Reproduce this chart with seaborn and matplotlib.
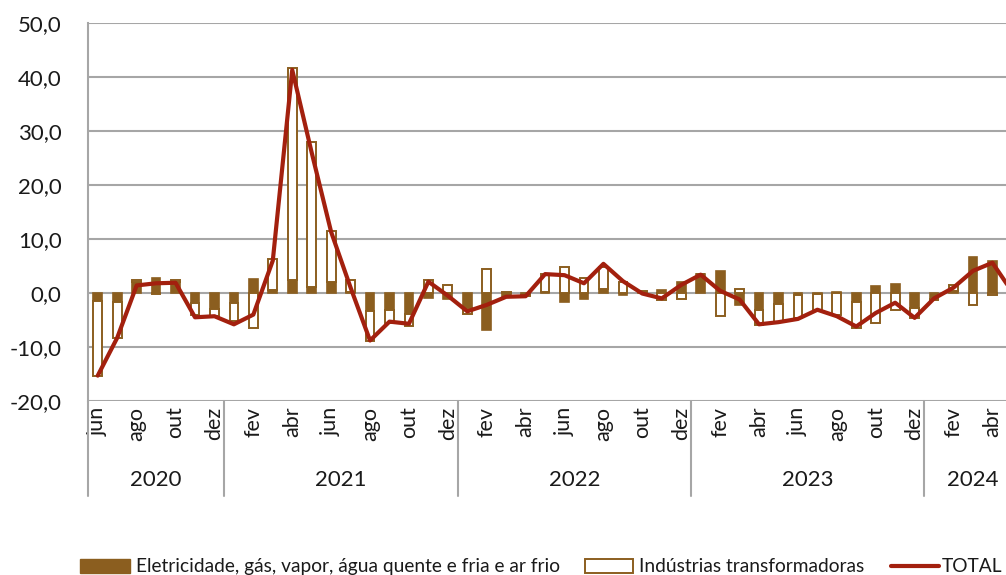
import numpy as np
import matplotlib
matplotlib.use("Agg")
import matplotlib.pyplot as plt
import matplotlib.transforms as mtransforms
from matplotlib.patches import Patch
from matplotlib.lines import Line2D
import seaborn as sns

# meses jun/2020 .. mai/2024
months = ["jun", "jul", "ago", "set", "out", "nov", "dez",
          "jan", "fev", "mar", "abr", "mai", "jun", "jul", "ago", "set", "out", "nov", "dez",
          "jan", "fev", "mar", "abr", "mai", "jun", "jul", "ago", "set", "out", "nov", "dez",
          "jan", "fev", "mar", "abr", "mai", "jun", "jul", "ago", "set", "out", "nov", "dez",
          "jan", "fev", "mar", "abr", "mai"]
years = ["2020", "2021", "2022", "2023", "2024"]
months_per_year = [7, 12, 12, 12, 5]

eletricidade = [-1.5, -1.7, 2.0, 2.8, 2.0, -1.9, -2.9,
                -1.8, 2.6, 0.5, 2.5, 1.2, 2.0, 0.1, -3.4, -3.2, -3.9, -1.0, -1.2,
                -2.8, -6.9, -0.7, -0.3, 0.1, -1.7, -1.1, 0.7, -0.3, 0.2, 0.5, 2.1,
                3.5, 4.0, -2.2, -3.2, -2.0, -0.4, -0.2, 0.1, -1.7, 1.3, 1.6, -2.7,
                -1.2, 0.4, 6.6, 6.0, -1.0]
industrias = [-13.9, -6.7, 0.4, -0.1, 0.5, -2.2, -1.4,
              -3.4, -6.5, 5.8, 39.1, 26.8, 9.5, 2.3, -5.4, -2.3, -2.2, 2.5, 1.4,
              -1.0, 4.4, 0.1, -0.3, 3.4, 4.9, 2.8, 4.2, 2.0, 0.1, -1.3, -1.2,
              0.1, -4.3, 0.8, -2.8, -3.3, -4.3, -3.0, -4.1, -4.7, -5.5, -3.2, -2.0,
              -0.1, 1.0, -2.3, -0.3, 1.0]
total = [-15.3, -8.3, 1.4, 1.8, 1.9, -4.5, -4.3,
         -5.8, -4.0, 6.0, 41.3, 26.0, 11.3, 1.0, -8.8, -5.3, -5.7, 2.1, -0.5,
         -3.4, -2.2, -0.7, -0.6, 3.5, 3.3, 1.8, 5.4, 2.2, -0.1, -1.0, 1.5,
         3.4, 0.4, -1.2, -5.8, -5.4, -4.8, -3.1, -4.3, -6.2, -3.7, -1.8, -4.6,
         -1.0, 1.0, 4.1, 5.6, 0.3]

BROWN = "#8B5E1F"
RED = "#A3200E"
GRID = "#A6A6A6"
TXT = "#1a1a1a"

sns.set_theme(style="white")
plt.rcParams["font.family"] = ["Lato", "DejaVu Sans"]

x = np.arange(len(months))
el = np.array(eletricidade)
ind = np.array(industrias)
# empilhamento estilo Excel: positivos e negativos separados
bottom = np.where(np.sign(ind) == np.sign(el), el, 0.0)

fig = plt.figure(figsize=(10.06, 5.75), dpi=100)
ax = fig.add_axes([0.0875, 0.3026, 0.928, 0.6574])

sns.barplot(x=x, y=el, native_scale=True, color=BROWN, saturation=1,
            width=0.45, edgecolor=BROWN, linewidth=1.2, ax=ax, zorder=3)
ax.bar(x, ind, bottom=bottom, width=0.45, color="white", edgecolor=BROWN,
       linewidth=1.4, zorder=3)
sns.lineplot(x=x, y=total, color=RED, linewidth=3, ax=ax, zorder=4)

ax.set_xlim(-0.5, len(months) - 0.5)
ax.set_ylim(-20, 50)
ax.set_yticks(np.arange(-20, 51, 10))
ax.set_yticklabels([f"{v:.1f}".replace(".", ",") for v in np.arange(-20, 51, 10)],
                   fontsize=16, color=TXT)
ax.yaxis.grid(True, color=GRID, linewidth=1.5, zorder=0)
ax.tick_params(axis="y", length=7, width=1.5, color=GRID, pad=12)
for s in ["top", "right", "bottom"]:
    ax.spines[s].set_visible(False)
ax.spines["left"].set_color(GRID)
ax.spines["left"].set_linewidth(1.5)

ax.set_xticks(x[::2])
ax.set_xticklabels(months[::2], rotation=90, fontsize=15.5, color=TXT)
ax.tick_params(axis="x", length=0, pad=4)
ax.set_xlabel("")
ax.set_ylabel("")

# separadores dos anos e etiquetas
trans = mtransforms.blended_transform_factory(ax.transData, ax.transAxes)
edges = np.concatenate([[0], np.cumsum(months_per_year)]) - 0.5
for e in edges:
    ax.plot([e, e], [-0.25, 0], transform=trans, color=GRID, linewidth=1.5,
            clip_on=False)
for i, yr in enumerate(years):
    ax.text((edges[i] + edges[i + 1]) / 2, -0.21, yr, transform=trans,
            ha="center", va="center", fontsize=16, color=TXT)

# legenda em tres blocos, como no original
items = [
    (Patch(facecolor=BROWN, edgecolor=BROWN),
     "Eletricidade, gás, vapor, água quente e fria e ar frio", 80, 2.6, 0.3),
    (Patch(facecolor="white", edgecolor=BROWN, linewidth=1.4),
     "Indústrias transformadoras", 585, 2.5, 0.3),
    (Line2D([0], [0], color=RED, linewidth=3), "TOTAL", 891, 2.5, 0.15),
]
for h, lab, px, hl, tp in items:
    leg = fig.legend([h], [lab], loc="center left", bbox_to_anchor=(px / 1006, 0.014),
                     frameon=False, fontsize=13.8, handlelength=hl, handleheight=0.75,
                     handletextpad=tp, borderpad=0, borderaxespad=0)
    for t in leg.get_texts():
        t.set_color(TXT)

fig.savefig("out.png", dpi=100)
